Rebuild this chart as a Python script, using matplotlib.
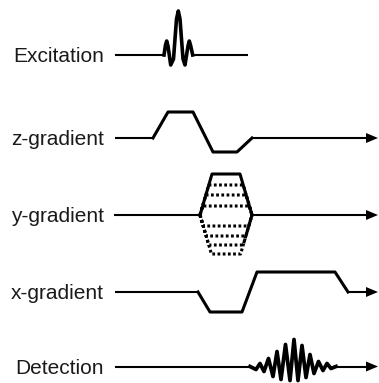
import matplotlib
matplotlib.use("Agg")
import matplotlib.pyplot as plt
from matplotlib.patches import Polygon

plt.rcParams['font.family'] = ['Liberation Sans', 'DejaVu Sans']

# channel names and baseline levels (drawing units, y grows downward)
labels = ['Excitation', 'z-gradient', 'y-gradient', 'x-gradient', 'Detection']
baselines = [55, 138, 215, 292, 366.5]

t_start = 115
t_end = 378
excitation_end = 248

# RF excitation pulse: (time, amplitude) vertices of the sinc lobes
rf_t = [164, 165.5, 166.7, 168, 170.7, 173.5, 176.5, 178.3, 180, 183, 185, 188, 189.3, 190.5, 192.7]
rf_a = [0, 10, 14, 9, -10, -4, 36, 44, 36, -4, -10, 9, 14, 10, 0]

# slice-select gradient (z): ramp up, plateau, refocusing lobe
gz_t = [153, 168, 193, 213, 237, 252]
gz_a = [0, 26, 26, -14, -14, 0]

# phase-encode gradient (y): table of step amplitudes
gy_start, gy_stop, gy_ramp = 200, 252, 12
gy_steps = [41, 30, 20, 9, -11, -21, -30, -39]

# readout gradient (x): dephasing lobe then readout plateau
gx_t = [198, 210, 242, 257, 335, 348]
gx_a = [0, -20, -20, 20, 20, 0]

# detected echo: peak / trough vertices
echo_t = [250, 256, 260, 264, 268.5, 273, 277, 281, 285.5, 290, 294,
          298, 302, 306, 310, 314, 318.5, 323, 327, 331, 336]
echo_a = [0, -3, 3, -5, 8, -10, 15, -13, 22, -14, 27,
          -14, 21, -11, 12, -7, 5, -4, 3, -2, 0]

fig = plt.figure(figsize=(3.79, 3.83), dpi=100)
ax = fig.add_axes([0, 0, 1, 1])
ax.set_xlim(0, 379)
ax.set_ylim(383, 0)
ax.axis('off')

lw_base = 1.5
lw_wave = 2.2


def arrow_head(y0, end):
    head = Polygon([[end - 12, y0 - 5], [end, y0], [end - 12, y0 + 5]],
                   closed=True, color='black', lw=0)
    ax.add_patch(head)


def trace(t, a, y0, end, arrow=True, lw=lw_wave):
    xs = [t_start] + list(t) + [end - (9 if arrow else 0)]
    ys = [y0] + [y0 - v for v in a] + [y0]
    ax.plot(xs[:2], ys[:2], color='black', lw=lw_base, solid_capstyle='butt')
    ax.plot(xs[1:-1], ys[1:-1], color='black', lw=lw, solid_joinstyle='round')
    ax.plot(xs[-2:], ys[-2:], color='black', lw=lw_base, solid_capstyle='butt')
    if arrow:
        arrow_head(y0, end)


trace(rf_t, rf_a, baselines[0], excitation_end, arrow=False, lw=2.6)
trace(gz_t, gz_a, baselines[1], t_end)

# y-gradient: solid outer trapezoid, dotted lower amplitude steps
y0 = baselines[2]
ax.plot([t_start, gy_start], [y0, y0], color='black', lw=lw_base)
ax.plot([gy_stop, t_end - 9], [y0, y0], color='black', lw=lw_base)
arrow_head(y0, t_end)
for i, amp in enumerate(gy_steps):
    r = gy_ramp * abs(amp) / max(gy_steps)
    xs = [gy_start, gy_start + r, gy_stop - r, gy_stop]
    ys = [y0, y0 - amp, y0 - amp, y0]
    if i == 0:
        ax.plot(xs, ys, color='black', lw=lw_wave, solid_joinstyle='round')
    else:
        ax.plot(xs, ys, color='black', lw=2.2, linestyle=(0, (0.9, 0.8)))

trace(gx_t, gx_a, baselines[3], t_end)
trace(echo_t, echo_a, baselines[4], t_end, lw=2.7)

for name, y in zip(labels, baselines):
    ax.text(104, y + 7.3, name, ha='right', va='baseline',
            fontsize=15, color='#1a1a1a')

fig.savefig('out.png', dpi=100)
